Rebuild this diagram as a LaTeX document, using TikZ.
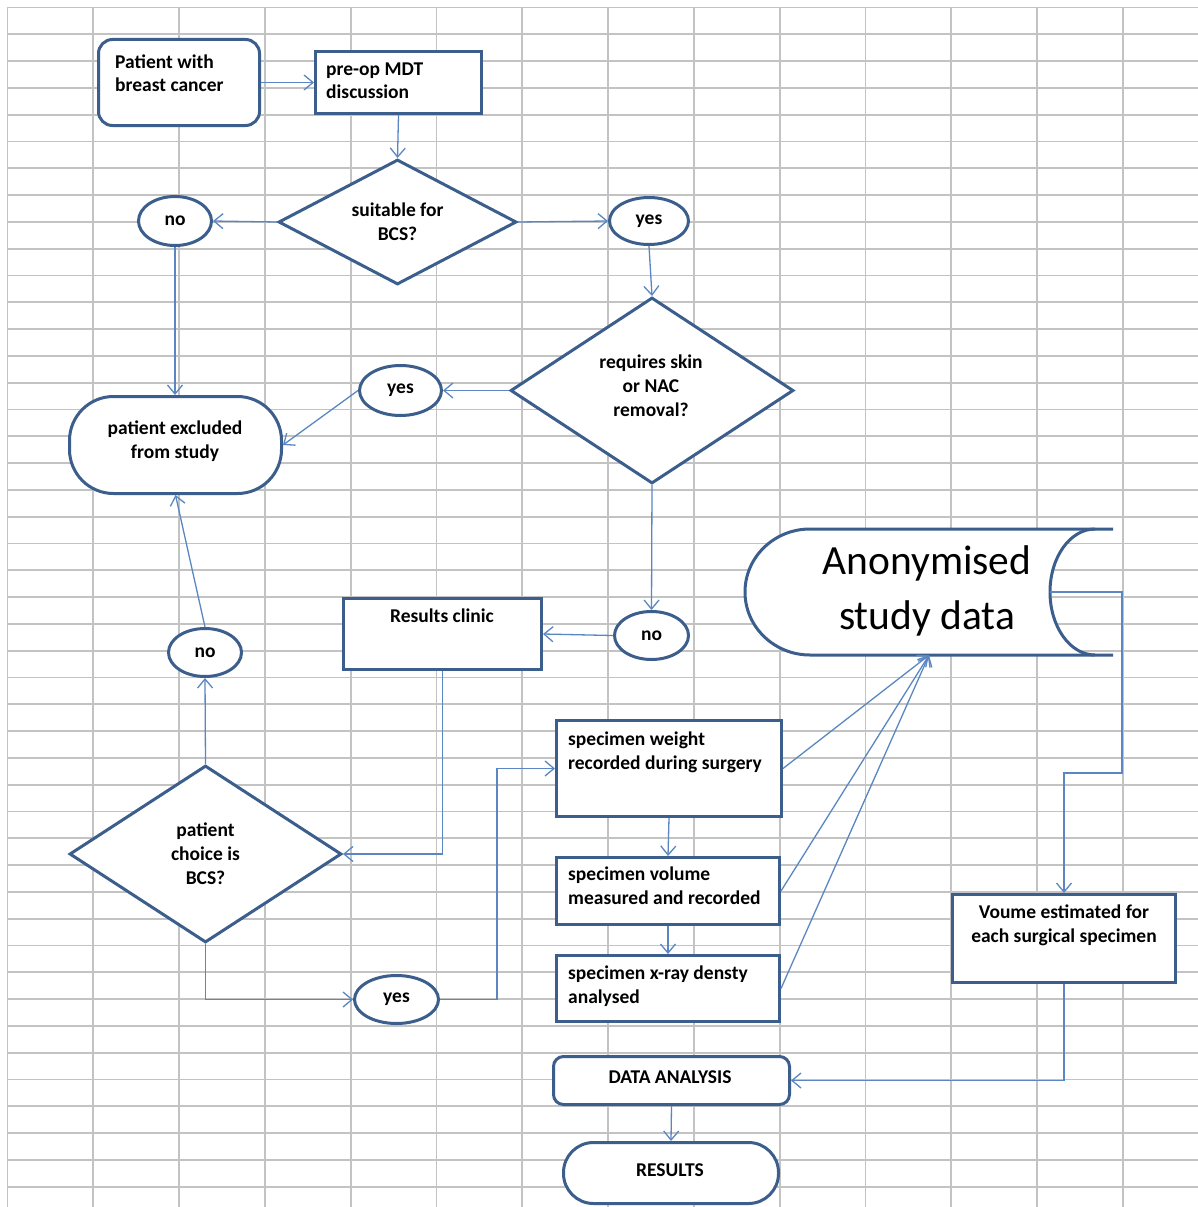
\documentclass[tikz,border=0pt]{standalone}
\usepackage{fontspec}
\setmainfont{Carlito}
\usetikzlibrary{shapes.geometric,arrows.meta,calc}
\definecolor{bord}{HTML}{3B5E8C}
\definecolor{linkc}{HTML}{5A87C2}
\definecolor{gridc}{HTML}{C3C3C3}
\newcommand\bff{\fontsize{19.5}{24}\selectfont\bfseries}
\begin{document}
\begin{tikzpicture}[x=1pt,y=-1pt,
  gridline/.style={draw=gridc, line width=1.8pt},
  box/.style={draw=bord, line width=3pt, fill=white, inner sep=0pt, rectangle},
  rbox/.style={box, rounded corners=#1},
  rbox/.default=10pt,
  oval/.style={draw=bord, line width=3pt, fill=white, inner sep=0pt, ellipse, font=\bff},
  dia/.style={draw=bord, line width=3pt, fill=white, inner sep=0pt, diamond, font=\bff, align=center},
  txt/.style={font=\bff, inner sep=0pt},
  link/.style={draw=linkc, line width=1.3pt, -{Straight Barb[length=9pt,width=15pt]}}
]
\useasboundingbox (0,0) rectangle (1198,1207);
\fill[white] (0,0) rectangle (1198,1207);
\foreach \k in {0,...,44} \draw[gridline] (7.5,{7.5+26.8*\k}) -- (1198,{7.5+26.8*\k});
\foreach \k in {0,...,13} \draw[gridline] ({7.5+85.8*\k},7.5) -- ({7.5+85.8*\k},1207);

% shapes (multi-line text nodes: base anchor = baseline of last line)
\node[rbox=14pt, minimum width=161pt, minimum height=86pt] (pat) at (179,82.5) {};
\node[txt, anchor=base west, align=left] (tpat) at (115,92) {Patient with\\breast cancer};
\node[box, minimum width=166pt, minimum height=62pt] (mdt) at (398.5,82.5) {};
\node[txt, anchor=base west, align=left] (tmdt) at (326,99) {pre-op MDT\\discussion};
\node[dia, minimum width=238pt, minimum height=125pt, shape aspect=1.88] (d1) at (397.5,222) {suitable for\\BCS?};
\node[oval, minimum width=73pt, minimum height=49pt] (no1) at (175,221) {no};
\node[oval, minimum width=79pt, minimum height=47pt] (yes1) at (649,221) {yes};
\node[dia, minimum width=283pt, minimum height=186pt, shape aspect=1.5] (d2) at (652,390.5) {};
\node[txt, align=center] (td2) at (651,385.5) {requires skin\\or NAC\\removal?};
\node[oval, minimum width=82pt, minimum height=50pt] (yes2) at (400.5,390.5) {yes};
\node[rbox=44pt, minimum width=212pt, minimum height=97pt] (excl) at (175.5,445) {};
\node[txt, anchor=base, align=center] (texcl) at (175,458) {patient excluded\\from study};
\node[oval, minimum width=74pt, minimum height=48pt] (no3) at (651.5,635.5) {no};
\node[box, minimum width=198pt, minimum height=71pt] (rc) at (442.5,634) {};
\node[txt, anchor=base] (trc) at (442,622) {Results clinic};
\node[oval, minimum width=73pt, minimum height=48pt] (no4) at (205,652.5) {no};
\node[dia, minimum width=272pt, minimum height=177pt, shape aspect=1.53] (d3) at (205.5,854) {patient\\choice is\\BCS?};
\node[oval, minimum width=84pt, minimum height=48pt] (yes5) at (396.5,999.5) {yes};
\node[box, minimum width=225pt, minimum height=96pt] (wt) at (669,768.5) {};
\node[txt, anchor=base west, align=left] (twt) at (568,769) {specimen weight\\recorded during surgery};
\node[box, minimum width=223pt, minimum height=67pt] (vol) at (668,891) {};
\node[txt, anchor=base west, align=left] (tvol) at (568,904) {specimen volume\\measured and recorded};
\node[box, minimum width=223pt, minimum height=66pt] (xr) at (668,988.5) {};
\node[txt, anchor=base west, align=left] (txr) at (568,1003) {specimen x-ray densty\\analysed};
\node[box, minimum width=223pt, minimum height=88pt] (ve) at (1064,938.5) {};
\node[txt, anchor=base, align=center] (tve) at (1064,942) {Voume estimated for\\each surgical specimen};
\node[rbox=10pt, minimum width=236pt, minimum height=48pt] (da) at (671.5,1080.5) {};
\node[txt, anchor=base] (tda) at (670,1083) {DATA ANALYSIS};
\node[rbox=30pt, minimum width=215pt, minimum height=61pt] (res) at (671,1173) {};
\node[txt, anchor=base] (tres) at (670,1176) {RESULTS};

% stored data shape
\node[inner sep=0pt, minimum width=368pt, minimum height=126pt] (anon) at (929,592) {};
\coordinate (anonR) at (1050,592);
\fill[white] (810,529) -- (1095,529) arc[start angle=270, end angle=90, x radius=45, y radius=63]
  -- (810,655) arc[start angle=90, end angle=270, x radius=65, y radius=63] -- cycle;
\draw[bord, line width=3pt] (1113,529) -- (810,529) arc[start angle=270, end angle=90, x radius=65, y radius=63] -- (1113,655);
\draw[bord, line width=3pt] (1095,529) arc[start angle=270, end angle=90, x radius=45, y radius=63];
\node[inner sep=0pt, anchor=base, align=center, font=\fontsize{41.5}{55}\selectfont] (tanon) at (927,629) {Anonymised\\study data};

% connectors
\draw[link] (pat.east) -- (mdt.west);
\draw[link] (mdt.south) -- (d1.north);
\draw[link] (d1.west) -- (no1.east);
\draw[link] (d1.east) -- (yes1.west);
\draw[link] (no1.south) -- (no1.south |- excl.north);
\draw[link] (yes1.south) -- (d2.north);
\draw[link] (d2.west) -- (yes2.east);
\draw[link] (yes2.west) -- (excl.east);
\draw[link] (d2.south) -- (no3.north);
\draw[link] (no3.west) -- (rc.east);
\draw[link] (no4.north) -- (excl.south);
\draw[link] (d3.north) -- (no4.south);
\draw[link] (rc.south) |- (d3.east);
\draw[link] (d3.south) |- (yes5.west);
\draw[link] (yes5.east) -- ++(57,0) |- (wt.west);
\draw[link] (wt.south) -- (vol.north);
\draw[link] (vol.south) -- (xr.north);
\draw[link] (wt.east) -- (anon.south);
\draw[link] (vol.east) -- (anon.south);
\draw[link] (xr.east) -- (anon.south);
\draw[link] (anonR) -- ++(72,0) |- ($(ve.north)+(0,-120)$) -- (ve.north);
\draw[link] (ve.south) |- (da.east);
\draw[link] (da.south) -- (res.north);
\end{tikzpicture}
\end{document}
